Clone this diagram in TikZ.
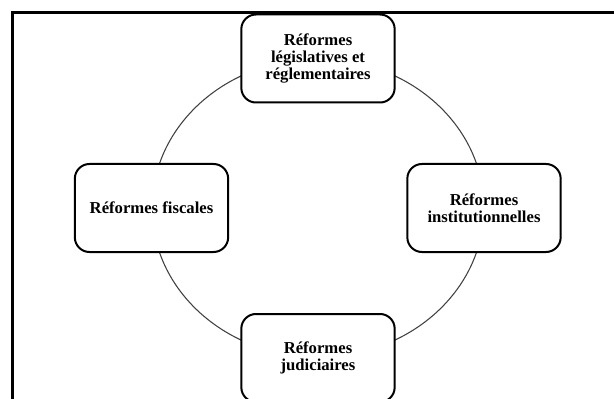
\documentclass[tikz,border=0pt]{standalone}
\usepackage{fontspec}
\setmainfont{Liberation Serif}

\begin{document}
\begin{tikzpicture}
[x=0.75pt,y=-0.75pt,
 reform/.style={rectangle,rounded corners=11pt,draw=black,fill=white,line width=1.5pt,minimum width=115pt,minimum height=66pt,align=center,inner sep=2pt,font=\fontsize{12.5}{13}\selectfont\bfseries}]
\clip (0,0) rectangle (614,399);
\coordinate (centre) at (318,208);
\draw[black!75,line width=0.8pt] (centre) ellipse [x radius=124.5pt,y radius=111.75pt];
\node[reform] (legislative) at (318,58.5) {Réformes\\législatives et\\réglementaires};
\node[reform] (fiscal) at (151.5,208) {Réformes fiscales};
\node[reform] (institutional) at (484,208) {Réformes\\institutionnelles};
\node[reform] (judicial) at (318,358) {Réformes\\judiciaires};
\draw[line width=2.25pt] (12,400) -- (12,13) -- (615,13);
\end{tikzpicture}
\end{document}
